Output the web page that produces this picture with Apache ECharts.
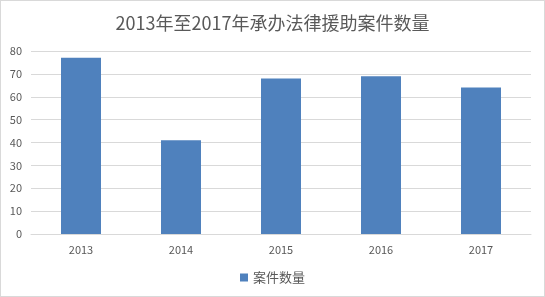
<!DOCTYPE html>
<html><head><meta charset="utf-8">
<script src="https://cdn.jsdelivr.net/npm/echarts@6/dist/echarts.min.js"></script>
<style>html,body{margin:0;padding:0;background:#fff}#c{width:543px;height:295px;border:1px solid #d9d9d9}</style>
</head><body><div id="c"></div>
<script>
const categories = ['2013','2014','2015','2016','2017'];
const values = [77, 41, 68, 69, 64];
const seriesName = '案件数量';
const titleText = '2013年至2017年承办法律援助案件数量';
const chart = echarts.init(document.getElementById('c'));
const font = '"Noto Sans CJK SC", "Microsoft YaHei", sans-serif';
chart.setOption({
  animation: false,
  title: {text: titleText, left: 'center', top: 8, textStyle: {fontFamily: font, fontSize: 18, fontWeight: 'normal', color: '#595959'}},
  grid: {left: 30, right: 13, top: 50, bottom: 62, containLabel: false},
  legend: {data: [seriesName], bottom: 7, left: 'center', icon: 'rect', itemWidth: 8, itemHeight: 8, itemGap: 4,
    textStyle: {fontFamily: font, fontSize: 13, color: '#595959'}},
  xAxis: {type: 'category', data: categories,
    axisLine: {lineStyle: {color: '#d9d9d9'}}, axisTick: {show: false},
    axisLabel: {fontFamily: font, fontSize: 11, color: '#595959', margin: 10}},
  yAxis: {type: 'value', min: 0, max: 80, interval: 10,
    axisLine: {show: false}, axisTick: {show: false},
    splitLine: {lineStyle: {color: '#d9d9d9'}},
    axisLabel: {fontFamily: font, fontSize: 11, color: '#595959', margin: 9}},
  series: [{name: seriesName, type: 'bar', data: values, barWidth: '40%', itemStyle: {color: '#4f81bd'}}]
});
</script></body></html>
